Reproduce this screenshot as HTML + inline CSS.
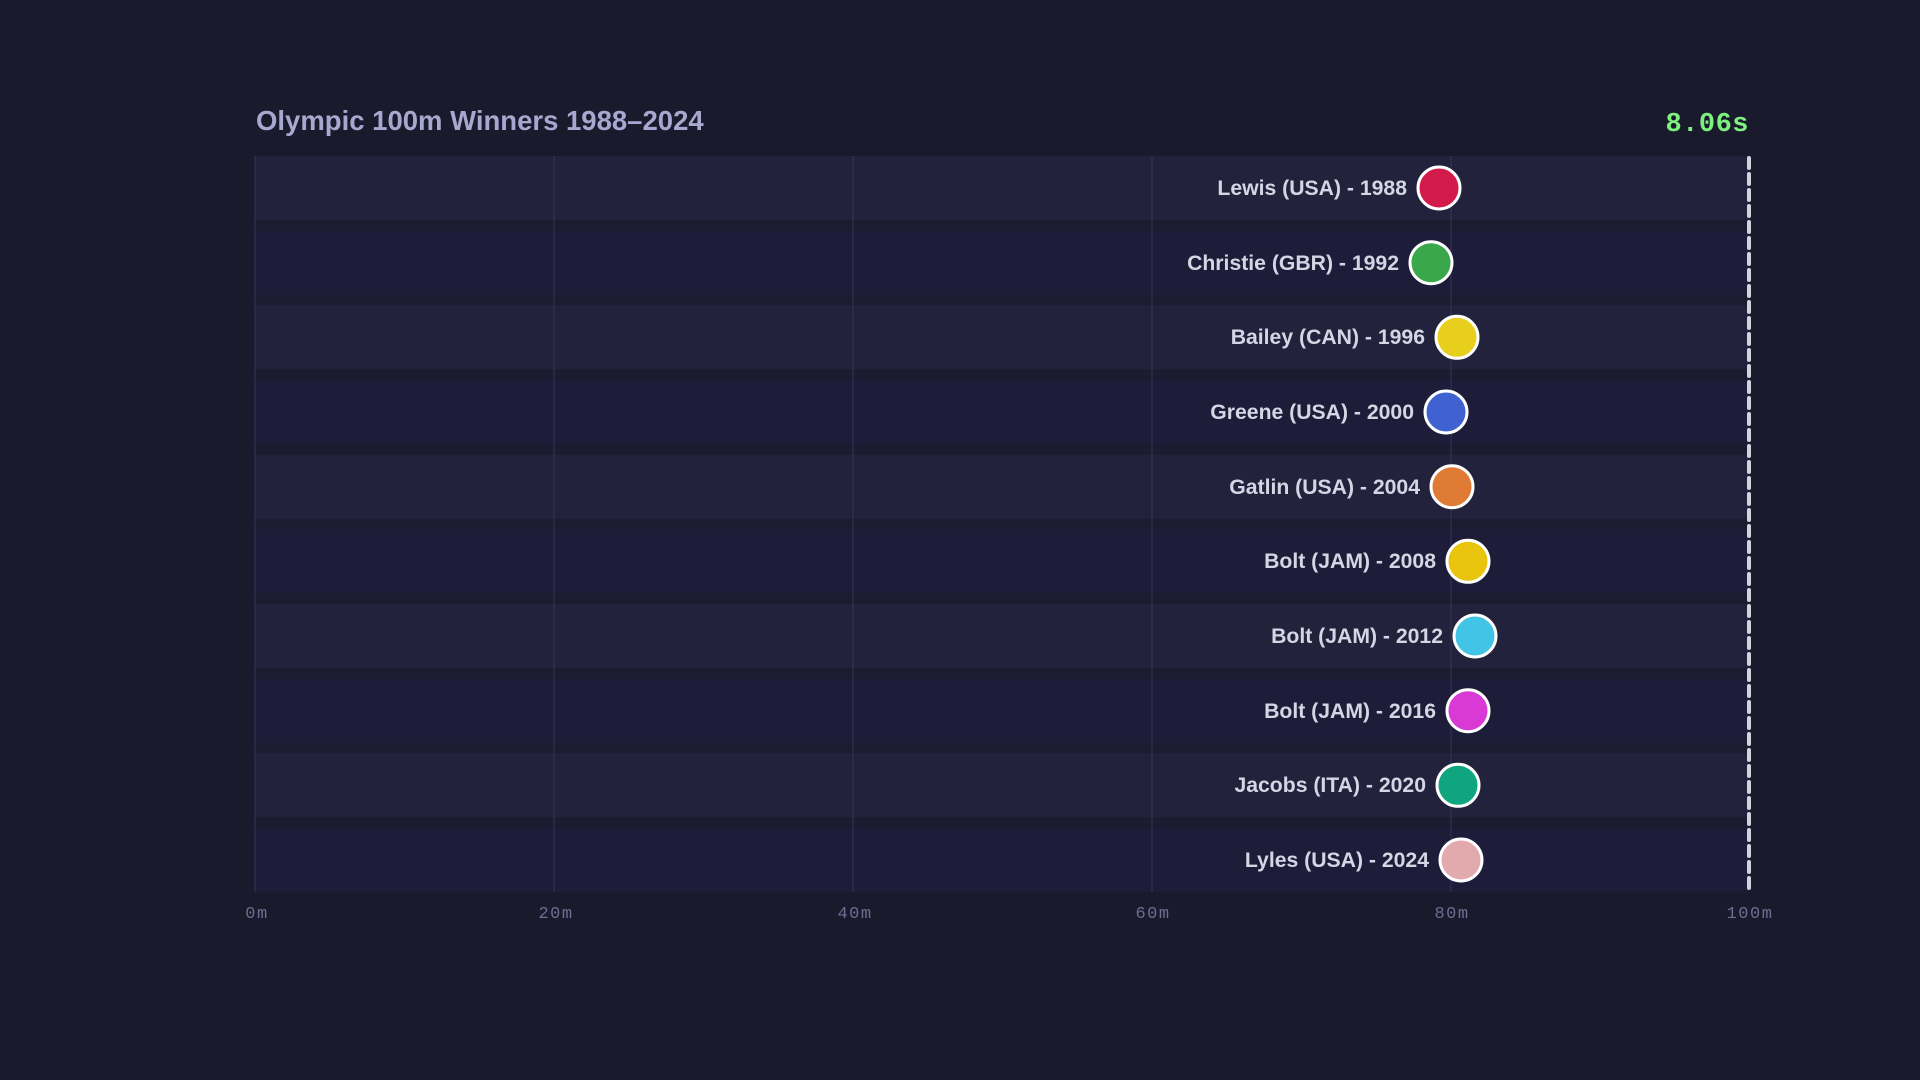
<!DOCTYPE html>
<html><head><meta charset="utf-8"><style>
html,body{margin:0;padding:0;background:#1a1a2d;}
svg{display:block}
</style></head><body>
<svg width="1920" height="1080" viewBox="0 0 1920 1080" xmlns="http://www.w3.org/2000/svg">
<rect width="1920" height="1080" fill="#1a1a2d"/>
<rect x="255" y="156" width="1494" height="736" fill="#1c1b30"/>
<g>
<rect x="255" y="156" width="1494" height="64" fill="#22223d"/>
<rect x="255" y="230.67" width="1494" height="64" fill="#1e1d39"/>
<rect x="255" y="305.33" width="1494" height="64" fill="#22223d"/>
<rect x="255" y="380" width="1494" height="64" fill="#1e1d39"/>
<rect x="255" y="454.67" width="1494" height="64" fill="#22223d"/>
<rect x="255" y="529.33" width="1494" height="64" fill="#1e1d39"/>
<rect x="255" y="604" width="1494" height="64" fill="#22223d"/>
<rect x="255" y="678.67" width="1494" height="64" fill="#1e1d39"/>
<rect x="255" y="753.33" width="1494" height="64" fill="#22223d"/>
<rect x="255" y="828" width="1494" height="64" fill="#1e1d39"/>
</g>
<g stroke="#34345a" stroke-width="1">
<line x1="255" y1="156" x2="255" y2="892"/>
<line x1="554" y1="156" x2="554" y2="892"/>
<line x1="853" y1="156" x2="853" y2="892"/>
<line x1="1152" y1="156" x2="1152" y2="892"/>
<line x1="1451" y1="156" x2="1451" y2="892"/>
</g>
<line x1="1749" y1="158" x2="1749" y2="890" stroke="#d4d3dc" stroke-width="4" stroke-dasharray="10 6" stroke-linecap="round"/>
<text x="256" y="130" font-family="Liberation Sans, sans-serif" font-weight="bold" font-size="27.5" fill="#a8a7cf">Olympic 100m Winners 1988–2024</text>
<text x="1749" y="131" text-anchor="end" font-family="Liberation Mono, monospace" font-weight="bold" font-size="27" letter-spacing="0.5" fill="#7ef07e">8.06s</text>
<g font-family="Liberation Mono, monospace" font-size="17" letter-spacing="1.5" fill="#6e6d92" text-anchor="middle">
<text x="257" y="918">0m</text><text x="556" y="918">20m</text><text x="855" y="918">40m</text><text x="1153" y="918">60m</text><text x="1452" y="918">80m</text><text x="1750" y="918">100m</text>
</g>
<g font-family="Liberation Sans, sans-serif" font-weight="bold" font-size="21.2" fill="#d6d5e4" text-anchor="end">
<text x="1407" y="195">Lewis (USA) - 1988</text>
<text x="1399" y="270">Christie (GBR) - 1992</text>
<text x="1425" y="344">Bailey (CAN) - 1996</text>
<text x="1414" y="419">Greene (USA) - 2000</text>
<text x="1420" y="494">Gatlin (USA) - 2004</text>
<text x="1436" y="568">Bolt (JAM) - 2008</text>
<text x="1443" y="643">Bolt (JAM) - 2012</text>
<text x="1436" y="718">Bolt (JAM) - 2016</text>
<text x="1426" y="792">Jacobs (ITA) - 2020</text>
<text x="1429" y="867">Lyles (USA) - 2024</text>
</g>
<g stroke="#fff" stroke-width="3">
<circle cx="1439" cy="188" r="21" fill="#d21b4b"/>
<circle cx="1431" cy="262.7" r="21" fill="#3aa84a"/>
<circle cx="1457" cy="337.3" r="21" fill="#e8cf1e"/>
<circle cx="1446" cy="412" r="21" fill="#4062d0"/>
<circle cx="1452" cy="486.7" r="21" fill="#e07b35"/>
<circle cx="1468" cy="561.3" r="21" fill="#e8c40c"/>
<circle cx="1475" cy="636" r="21" fill="#42c4e6"/>
<circle cx="1468" cy="710.7" r="21" fill="#d93ad6"/>
<circle cx="1458" cy="785.3" r="21" fill="#0fa57e"/>
<circle cx="1461" cy="860" r="21" fill="#e3aaae"/>
</g>
</svg>
</body></html>
